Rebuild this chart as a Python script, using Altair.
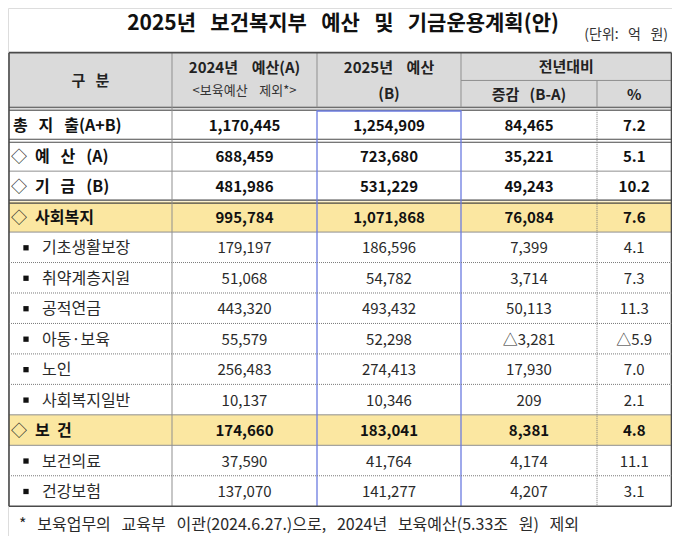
import altair as alt
import pandas as pd

# ---------------- data ----------------
row_labels = ["총 지 출(A+B)", "예 산 (A)", "기 금 (B)", "사회복지", "기초생활보장", "취약계층지원",
              "공적연금", "아동·보육", "노인", "사회복지일반", "보 건", "보건의료", "건강보험"]
row_levels = [0, 1, 1, 1, 2, 2, 2, 2, 2, 2, 1, 2, 2]
budget_2024 = [1170445, 688459, 481986, 995784, 179197, 51068, 443320, 55579, 256483, 10137,
               174660, 37590, 137070]
budget_2025 = [1254909, 723680, 531229, 1071868, 186596, 54782, 493432, 52298, 274413, 10346,
               183041, 41764, 141277]
change_amount = [84465, 35221, 49243, 76084, 7399, 3714, 50113, -3281, 17930, 209, 8381, 4174, 4207]
change_pct = [7.2, 5.1, 10.2, 7.6, 4.1, 7.3, 11.3, -5.9, 7.0, 2.1, 4.8, 11.1, 3.1]
highlight_rows = ["사회복지", "보 건"]

title_text = "2025년 보건복지부 예산 및 기금운용계획(안)"
unit_text = "(단위: 억 원)"
footnote_text = "* 보육업무의 교육부 이관(2024.6.27.)으로, 2024년 보육예산(5.33조 원) 제외"
header_col0 = "구 분"
header_col1 = ["2024년 예산(A)", "<보육예산 제외*>"]
header_col2 = ["2025년 예산", "(B)"]
header_group = "전년대비"
header_col3 = "증감 (B-A)"
header_col4 = "%"

# ---------------- layout / style ----------------
FONT = "Noto Sans CJK KR"
NB = "\u00a0"


def spaced(s, n):
    """wide word spacing as in the original document"""
    return s.replace(" ", NB * n)


COLS = [9, 172, 317, 461, 597, 671.5]
TOP, HMID, HBOT, BODY0, BOTTOM = 53, 81, 108, 111, 510
N = len(row_labels)
RH = (BOTTOM - BODY0) / N
edges = [BODY0 + RH * i for i in range(N + 1)]
centers = [(edges[i] + edges[i + 1]) / 2 + 1 for i in range(N)]
ccol = [(COLS[i] + COLS[i + 1]) / 2 for i in range(5)]

GRID = "#8f8f8f"
DARK = "#4a4a4a"
BLUE = "#6b7be0"
YELLOW = "#fbe7a1"
HEADER_BG = "#dadada"

xs = alt.Scale(domain=[8, 672], nice=False, zero=False)
ys = alt.Scale(domain=[8, 540], nice=False, zero=False, reverse=True)
X = alt.X("x:Q", scale=xs, axis=None)
Y = alt.Y("y:Q", scale=ys, axis=None)


def fmt_int(v):
    return ("△" if v < 0 else "") + f"{abs(v):,}"


def fmt_pct(v):
    return ("△" if v < 0 else "") + f"{abs(v):.1f}"


# fills
fills = [dict(x=COLS[0], x2=COLS[-1], y=TOP, y2=HBOT + 3, c=HEADER_BG)]
for i, lab in enumerate(row_labels):
    if lab in highlight_rows:
        fills.append(dict(x=COLS[0], x2=COLS[-1], y=edges[i], y2=edges[i + 1], c=YELLOW))
fill_layer = alt.Chart(pd.DataFrame(fills)).mark_rect().encode(
    x=X, x2="x2:Q", y=Y, y2="y2:Q", color=alt.Color("c:N", scale=None))

solid = []
dotted = []


def hl(y, x1=COLS[0], x2=COLS[-1], c=GRID, w=1.0):
    solid.append(dict(x=x1, x2=x2, y=y, y2=y, c=c, w=w))


def vl(x, y1, y2, c=GRID, w=1.0):
    solid.append(dict(x=x, x2=x, y=y1, y2=y2, c=c, w=w))


hl(HMID, COLS[3], COLS[5])
hl(HBOT, c=DARK, w=1.2)
hl(HBOT + 3, c=DARK, w=1.2)
double_after = [0, 2]
solid_after = [1, 3, 9, 10]
for i in range(N - 1):
    b = edges[i + 1]
    if i in double_after:
        hl(b - 1.5, c=DARK, w=1.1)
        hl(b + 1.5, c=DARK, w=1.1)
    elif i in solid_after:
        hl(b, c=GRID, w=1.0)
    else:
        dotted.append(dict(x=COLS[0], x2=COLS[-1], y=b, y2=b))
vl(COLS[1], TOP, BOTTOM)
vl(COLS[2], TOP, HBOT)
vl(COLS[3], TOP, HBOT)
vl(COLS[4], HMID, HBOT)
vl(COLS[2], BODY0, BOTTOM, c=BLUE, w=1.3)
vl(COLS[3], BODY0, BOTTOM, c=BLUE, w=1.3)
hl(BODY0 + 0.8, COLS[2], COLS[3], c=BLUE, w=1.3)
dotted.append(dict(x=COLS[4], x2=COLS[4], y=BODY0, y2=BOTTOM))
hl(TOP, c=DARK, w=1.6)
hl(BOTTOM, c=DARK, w=1.6)
vl(COLS[0], TOP, BOTTOM, c=DARK, w=1.6)
vl(COLS[5], TOP, BOTTOM, c=DARK, w=1.6)

solid_layer = alt.Chart(pd.DataFrame(solid)).mark_rule().encode(
    x=X, x2="x2:Q", y=Y, y2="y2:Q",
    color=alt.Color("c:N", scale=None), strokeWidth=alt.StrokeWidth("w:Q", scale=None))
dotted_layer = alt.Chart(pd.DataFrame(dotted)).mark_rule(
    color="#7a7a7a", strokeWidth=1, strokeDash=[1, 1]).encode(x=X, x2="x2:Q", y=Y, y2="y2:Q")


def text_layer(rows, size, weight, align="center", color="#1a1a1a"):
    return alt.Chart(pd.DataFrame(rows)).mark_text(
        font=FONT, fontSize=size, fontWeight=weight, align=align, baseline="middle", color=color
    ).encode(x=X, y=Y, text="t:N")


title_layer = text_layer([dict(x=343, y=24, t=spaced(title_text, 3))], 21, "bold", color="#111111")
unit_layer = text_layer([dict(x=668, y=35, t=spaced(unit_text, 3))], 14, "normal", align="right",
                        color="#333333")

hdr_bold = [
    dict(x=ccol[0], y=82, t=spaced(header_col0, 3)),
    dict(x=ccol[1], y=68, t=spaced(header_col1[0], 4)),
    dict(x=ccol[2], y=68, t=spaced(header_col2[0], 4)),
    dict(x=ccol[2], y=95, t=header_col2[1]),
    dict(x=(COLS[3] + COLS[5]) / 2, y=67, t=header_group),
    dict(x=ccol[3], y=96, t=spaced(header_col3, 3)),
    dict(x=ccol[4], y=96, t=header_col4),
]
hdr_bold_layer = text_layer(hdr_bold, 15, "bold", color="#222222")
hdr_small_layer = text_layer([dict(x=ccol[1], y=92, t=spaced(header_col1[1], 4))], 13, "normal",
                             color="#333333")

bold_lab, reg_lab, diamonds, bullets, bold_num, reg_num = [], [], [], [], [], []
for i in range(N):
    y = centers[i]
    lvl = row_levels[i]
    nums = [fmt_int(budget_2024[i]), fmt_int(budget_2025[i]), fmt_int(change_amount[i]),
            fmt_pct(change_pct[i])]
    target = bold_num if lvl < 2 else reg_num
    for j, s in enumerate(nums):
        target.append(dict(x=ccol[j + 1], y=y, t=s))
    if lvl == 0:
        bold_lab.append(dict(x=13, y=y, t=spaced(row_labels[i], 3)))
    elif lvl == 1:
        diamonds.append(dict(x=11, y=y, t="◇"))
        n = 2 if len(row_labels[i]) <= 3 else 3
        bold_lab.append(dict(x=35, y=y, t=spaced(row_labels[i], n)))
    else:
        bullets.append(dict(x=26, y=y - 0.5))
        reg_lab.append(dict(x=42, y=y, t=row_labels[i]))

layers = [
    fill_layer, solid_layer, dotted_layer, title_layer, unit_layer, hdr_bold_layer, hdr_small_layer,
    text_layer(bold_lab, 16, "bold", align="left", color="#111111"),
    text_layer(reg_lab, 16, "normal", align="left", color="#2a2a2a"),
    text_layer(diamonds, 16, "normal", align="left", color="#222222"),
    alt.Chart(pd.DataFrame(bullets)).mark_square(size=28, color="#111111", opacity=1).encode(x=X, y=Y),
    text_layer(bold_num, 15, "bold", color="#111111"),
    text_layer(reg_num, 15, "normal", color="#2a2a2a"),
    text_layer([dict(x=19, y=529, t=spaced(footnote_text, 3))], 16, "normal", align="left",
               color="#2a2a2a"),
]

chart = alt.layer(*layers).properties(
    width=664, height=528, padding=0, autosize=alt.AutoSizeParams(type="none")
).configure_view(stroke=None).configure(background="white")

chart.save("out.html", embed_options={"renderer": "svg", "actions": False})
